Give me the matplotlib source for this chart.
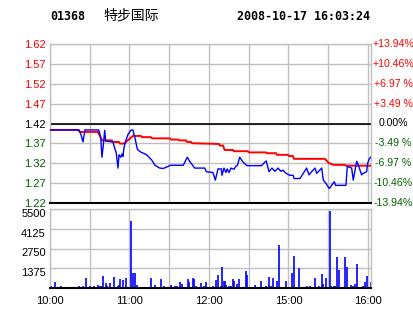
import matplotlib
matplotlib.use("Agg")
import matplotlib.pyplot as plt
from matplotlib.transforms import offset_copy

# minutes since 10:00 (trading minutes, lunch break removed)
price_t = [0, 22, 23.4, 24.9, 26.4, 36.8, 38.3, 39.2, 40.2, 41.3, 42, 47.5, 48.8, 50,
           51.3, 52.1, 53.4, 54.3, 55.1, 55.8, 57.1, 58.9, 60.9, 62.6, 64.4, 65.9, 67.9,
           73, 76.8, 79.2, 82.8, 85.5, 89.1, 90.6, 100.6, 103.6, 105.4, 109.2, 116.8, 118,
           123, 124.8, 126.8, 129.3, 129.8, 131.3, 132.8, 133.8, 135.1, 136.6, 138.9, 140.4,
           141.4, 143.2, 145.7, 148.7, 159.5, 163.2, 165.3, 167.5, 169.8, 172.1, 174.3,
           175.8, 178.1, 181.1, 183.6, 184.2, 188.7, 191.2, 193.7, 195.5, 197.5, 200, 201.3,
           205.1, 206.3, 208.3, 210.8, 212.6, 214.6, 215.6, 223.4, 224.4, 227.7, 228.9,
           231.5, 232.5, 234, 235.2, 236.5, 239, 239.8, 241, 242]
price = [1.404, 1.404, 1.392, 1.374, 1.404, 1.404, 1.385, 1.336, 1.365, 1.403, 1.376, 1.374,
         1.359, 1.347, 1.309, 1.342, 1.336, 1.344, 1.338, 1.359, 1.376, 1.393, 1.403, 1.404,
         1.380, 1.356, 1.350, 1.342, 1.329, 1.316, 1.309, 1.308, 1.313, 1.316, 1.316, 1.336,
         1.326, 1.309, 1.309, 1.300, 1.298, 1.279, 1.307, 1.307, 1.291, 1.309, 1.298, 1.307,
         1.298, 1.309, 1.306, 1.314, 1.315, 1.336, 1.324, 1.315, 1.315, 1.327, 1.300, 1.309,
         1.301, 1.309, 1.301, 1.304, 1.296, 1.291, 1.291, 1.283, 1.283, 1.296, 1.309, 1.292,
         1.300, 1.309, 1.296, 1.309, 1.279, 1.271, 1.258, 1.266, 1.275, 1.266, 1.266, 1.313,
         1.309, 1.279, 1.326, 1.319, 1.304, 1.292, 1.296, 1.300, 1.321, 1.332, 1.336]

avg_t = [0, 21.1, 22.6, 36.2, 39.2, 46.8, 47.5, 52.1, 52.8, 55.8, 62.6, 68.7, 69.4, 76.2, 77,
         90.6, 91.3, 96.6, 97.4, 102.6, 103.4, 106.4, 107.2, 127.5, 128.3, 130.6, 131.8,
         138.1, 138.9, 149.4, 150.2, 163, 163.8, 170.6, 171.3, 179.6, 180.4, 183.4, 184.2,
         207.5, 210.6, 214.3, 222.6, 223.4, 242.3]
avg = [1.404, 1.404, 1.399, 1.399, 1.378, 1.378, 1.374, 1.374, 1.370, 1.370, 1.389, 1.389,
       1.386, 1.386, 1.383, 1.383, 1.380, 1.380, 1.378, 1.378, 1.374, 1.374, 1.371, 1.369,
       1.365, 1.365, 1.354, 1.354, 1.351, 1.351, 1.348, 1.348, 1.346, 1.346, 1.342, 1.342,
       1.339, 1.339, 1.332, 1.332, 1.321, 1.317, 1.317, 1.315, 1.315]

vol_t = [0, 1, 4, 8, 22, 25, 27, 30, 33, 36, 38, 39, 40, 42, 43, 45, 48, 51, 52, 53, 55, 57,
         61, 63, 64, 66, 76, 79, 84, 86, 91, 94, 96, 98, 100, 104, 105, 108, 109, 110, 114,
         116, 118, 123, 125, 127, 129, 130, 131, 132, 133, 135, 137, 138, 139, 141, 143, 148,
         149, 155, 159, 163, 165, 167, 168, 171, 173, 178, 183, 184, 188, 194, 196, 200, 203,
         205, 206, 208, 211, 212, 214, 215, 217, 218, 223, 224, 227, 229, 230, 232, 236, 238,
         239, 242]
vol = [160, 160, 420, 160, 160, 160, 700, 160, 160, 230, 160, 160, 860, 350, 160, 350, 790,
       160, 230, 650, 580, 720, 4690, 1070, 1070, 230, 720, 230, 650, 160, 230, 160, 160, 440,
       300, 650, 440, 720, 650, 160, 370, 160, 440, 160, 580, 930, 160, 1480, 510, 510, 230,
       160, 160, 650, 510, 300, 650, 1200, 930, 230, 510, 160, 790, 160, 720, 510, 3020, 510,
       1070, 2250, 1420, 160, 160, 720, 160, 1000, 300, 720, 5380, 160, 160, 160, 2180, 1280,
       2180, 1480, 230, 160, 300, 1690, 160, 440, 860, 440]

prev = 1.42
pct_labels = ["-13.94%", "-10.46%", "-6.97 %", "-3.49 %", "0.00%",
              "+3.49 %", "+6.97 %", "+10.46%", "+13.94%"]
grid_t = list(range(0, 241, 30))
time_labels = ["10:00", "", "11:00", "", "12:00", "", "15:00", "", "16:00"]

RED = "#ff0000"
GREEN = "#006000"
GRID = "#c0c0c0"

fig = plt.figure(figsize=(4.14, 3.14), dpi=100)
ax = fig.add_axes([50/414, 111/314, 321/414, 159/314])
axv = fig.add_axes([50/414, 26/314, 321/414, 79/314])

step = 0.03485
levels = [prev*(1 + k*step) for k in range(-4, 5)]
lvl_colors = [GREEN]*4 + ["black"] + [RED]*4

for a in (ax, axv):
    a.set_xlim(0, 242.3)
    a.set_xticks(grid_t)
    a.grid(True, color=GRID, lw=1.0)
    a.set_axisbelow(True)
    for s in ("left", "right", "top"):
        a.spines[s].set_color(GRID)
        a.spines[s].set_linewidth(1.0)
    a.spines["bottom"].set_color("black")
    a.spines["bottom"].set_linewidth(1.5)
    a.tick_params(length=0)

# price panel
ax.set_ylim(levels[0], levels[-1])
ax.set_yticks(levels)
ax.set_yticklabels(["%.2f" % v for v in levels], fontsize=8, family="Liberation Sans")
for lbl, c in zip(ax.get_yticklabels(), lvl_colors):
    lbl.set_color(c)
ax.tick_params(axis="y", pad=3)
ax.set_xticklabels([])
ax.axhline(prev, color="black", lw=1.2, zorder=2)
ax.plot(avg_t, avg, color=RED, lw=1.4, zorder=3)
ax.plot(price_t, price, color="#0000ff", lw=1.0, zorder=4)

# percent labels on the right, centred in the margin
tr = offset_copy(ax.get_yaxis_transform(), fig=fig, x=22, y=0, units="dots")
for v, s, c in zip(levels, pct_labels, lvl_colors):
    ax.text(1.0, v, s, transform=tr, ha="center", va="center", color=c,
            fontsize=7.6, family="Liberation Sans")

# volume panel
axv.vlines(vol_t, 0, vol, color="#0000ff", lw=1.2)
axv.set_ylim(0, 5500)
axv.set_yticks([1375, 2750, 4125, 5500])
axv.set_yticklabels(["1375", "2750", "4125", "5500"], fontsize=8, family="Liberation Sans",
                    va="top")
axv.tick_params(axis="y", pad=3)
axv.set_xticklabels(time_labels, fontsize=8, family="Liberation Sans")
axv.tick_params(axis="x", pad=6)

# header
fig.text(50/414, 1 - 17/314, "01368", fontsize=8.4, family="DejaVu Sans Mono",
         weight="bold", va="center", ha="left")
fig.text(103/414, 1 - 16/314, "特步国际", fontsize=10, family=["Noto Sans CJK SC", "DejaVu Sans"],
         va="center", ha="left")
fig.text(237/414, 1 - 17/314, "2008-10-17 16:03:24", fontsize=8.4, family="DejaVu Sans Mono",
         weight="bold", va="center", ha="left")

fig.savefig("out.png", dpi=100)
